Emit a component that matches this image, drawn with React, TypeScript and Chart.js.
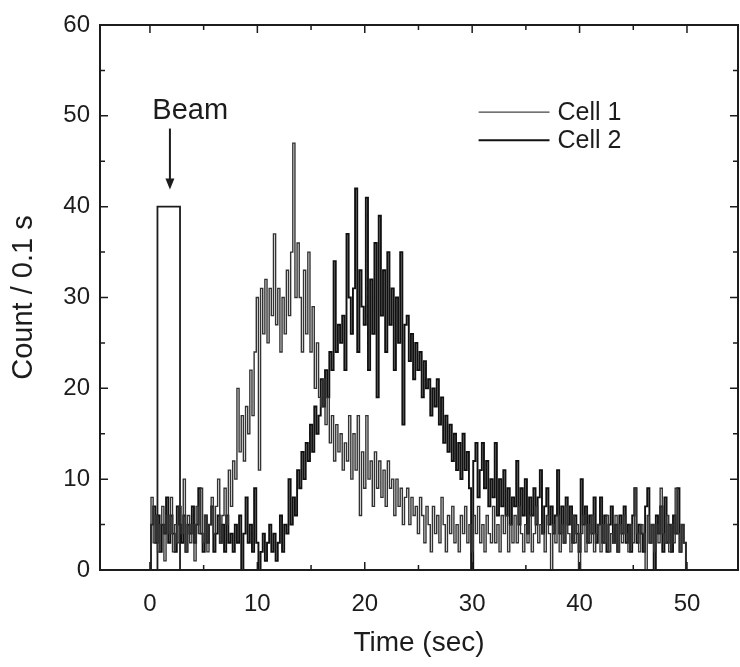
import React, { useEffect, useRef } from "react";
import { Chart, registerables } from "chart.js";

Chart.register(...registerables);

// ---- data (0.2 s resolution) ----
const STEP = 0.2;
const cell1 = [
  0, 8, 3, 6, 2, 5, 7, 1, 6, 4, 8, 2, 5, 3, 7, 4, 10, 2, 6, 3,
  5, 1, 7, 4, 9, 3, 6, 2, 5, 8, 4, 7, 10, 3, 6, 9, 5, 11, 7, 12,
  10, 20, 13, 17, 12, 18, 15, 22, 17, 24, 30, 11, 31, 26, 32, 25, 31, 28, 37, 27,
  31, 24, 30, 26, 33, 28, 35, 47, 30, 36, 30, 24, 33, 26, 35, 24, 29, 20, 25, 19,
  18, 21, 16, 19, 14, 17, 12, 16, 13, 15, 11, 14, 12, 17, 10, 15, 11, 17, 6, 13,
  9, 17, 10, 12, 7, 13, 9, 12, 8, 11, 7, 12, 9, 10, 6, 10, 7, 9, 5, 8,
  9, 5, 8, 6, 7, 4, 8, 6, 3, 7, 5, 2, 7, 4, 6, 3, 8, 5, 2, 6,
  4, 7, 3, 5, 2, 6, 4, 7, 3, 5, 2, 6, 4, 7, 3, 5, 2, 6, 4, 3,
  7, 3, 5, 2, 6, 4, 6, 2, 5, 3, 6, 3, 7, 4, 2, 5, 3, 6, 2, 4,
  7, 3, 5, 4, 2, 6, 4, 0, 5, 3, 6, 2, 5, 3, 7, 4, 2, 6, 3, 5,
  0, 4, 6, 2, 5, 3, 6, 2, 4, 5, 2, 5, 3, 6, 2, 4, 3, 6, 2, 5,
  3, 6, 4, 2, 5, 3, 9, 4, 2, 5, 4, 0, 6, 3, 5, 2, 5, 3, 9, 4,
  3, 6, 2, 5, 3, 9, 4, 2, 5, 3,
  0,
];
const cell2 = [
  0, 5, 7, 3, 6, 2, 5, 4, 8, 3, 6, 4, 2, 7, 5, 3, 6, 2, 5, 4,
  7, 3, 5, 9, 4, 2, 6, 3, 5, 7, 2, 4, 6, 3, 5, 2, 6, 3, 4, 2,
  5, 3, 6, 0, 4, 8, 3, 5, 2, 9, 3, 0, 2, 4, 1, 3, 5, 2, 4, 1,
  3, 6, 2, 5, 4, 10, 5, 8, 6, 11, 9, 13, 10, 14, 12, 16, 13, 18, 15, 17,
  21, 18, 22, 19, 24, 22, 34, 24, 27, 25, 28, 22, 37, 30, 26, 31, 42, 24, 33, 29,
  27, 41, 22, 32, 26, 36, 19, 39, 28, 33, 24, 35, 27, 31, 22, 30, 25, 35, 16, 27,
  28, 23, 26, 21, 25, 22, 24, 19, 23, 20, 21, 17, 20, 18, 21, 16, 19, 14, 17, 13,
  16, 12, 15, 11, 14, 10, 15, 11, 13, 9, 0, 12, 14, 8, 11, 14, 9, 12, 7, 10,
  8, 14, 6, 10, 7, 11, 6, 9, 5, 8, 7, 12, 5, 9, 6, 10, 4, 8, 6, 9,
  5, 8, 11, 4, 7, 9, 5, 7, 4, 6, 11, 4, 7, 3, 8, 5, 7, 3, 6, 4,
  2, 10, 5, 7, 3, 6, 4, 8, 3, 5, 8, 3, 6, 2, 5, 7, 3, 5, 2, 6,
  4, 7, 3, 5, 2, 6, 9, 3, 5, 4, 2, 7, 9, 3, 5, 0, 6, 4, 7, 2,
  8, 3, 5, 2, 6, 4, 9, 2, 5, 3,
  0,
];
const seriesNames = ["Cell 1", "Cell 2"];
const beamTimes = [0.7, 0.7, 2.8, 2.8];
const beamCounts = [0, 40, 40, 0];
const beamLabel = "Beam";
const xTicks = [0, 10, 20, 30, 40, 50];
const yTicks = [0, 10, 20, 30, 40, 50, 60];
const xTitle = "Time (sec)";
const yTitle = "Count / 0.1 s";

const FONT = "'Liberation Sans', Arial, Helvetica, sans-serif";
const INK = "#1c1c1c";

const framePlugin = {
  id: "frame",
  afterDraw(chart: any) {
    const { ctx, chartArea: a, scales } = chart;
    const xs = scales.x;
    const ys = scales.y;
    ctx.save();
    ctx.strokeStyle = INK;
    ctx.lineWidth = 2;
    ctx.strokeRect(a.left, a.top, a.right - a.left, a.bottom - a.top);
    // inward ticks
    ctx.lineWidth = 1.5;
    for (let v = 0; v <= 55; v += 5) {
      const px = xs.getPixelForValue(v);
      if (px < a.left || px > a.right) continue;
      const len = v % 10 === 0 ? 8 : 5;
      ctx.beginPath();
      ctx.moveTo(px, a.bottom);
      ctx.lineTo(px, a.bottom - len);
      ctx.moveTo(px, a.top);
      ctx.lineTo(px, a.top + len);
      ctx.stroke();
    }
    for (let v = 0; v <= 60; v += 5) {
      const py = ys.getPixelForValue(v);
      const len = v % 10 === 0 ? 8 : 5;
      ctx.beginPath();
      ctx.moveTo(a.left, py);
      ctx.lineTo(a.left + len, py);
      ctx.moveTo(a.right, py);
      ctx.lineTo(a.right - len, py);
      ctx.stroke();
    }
    // beam arrow + label
    const ax = xs.getPixelForValue(1.86);
    const y0 = ys.getPixelForValue(48.6);
    const y1 = ys.getPixelForValue(41.9);
    ctx.strokeStyle = INK;
    ctx.fillStyle = INK;
    ctx.lineWidth = 2;
    ctx.beginPath();
    ctx.moveTo(ax, y0);
    ctx.lineTo(ax, y1 - 8);
    ctx.stroke();
    ctx.beginPath();
    ctx.moveTo(ax - 4.5, y1 - 11);
    ctx.lineTo(ax + 4.5, y1 - 11);
    ctx.lineTo(ax, y1);
    ctx.closePath();
    ctx.fill();
    ctx.font = `29px ${FONT}`;
    ctx.textAlign = "center";
    ctx.textBaseline = "middle";
    ctx.fillText(beamLabel, xs.getPixelForValue(3.75), ys.getPixelForValue(50.5));
    // legend
    const lx0 = xs.getPixelForValue(30.6);
    const lx1 = xs.getPixelForValue(37.2);
    const rows = [
      { y: ys.getPixelForValue(50.4), color: "#444", w: 1.3 },
      { y: ys.getPixelForValue(47.3), color: "#111", w: 2 },
    ];
    ctx.font = `25px ${FONT}`;
    ctx.textAlign = "left";
    rows.forEach((r, i) => {
      ctx.strokeStyle = r.color;
      ctx.lineWidth = r.w;
      ctx.beginPath();
      ctx.moveTo(lx0, r.y);
      ctx.lineTo(lx1, r.y);
      ctx.stroke();
      ctx.fillStyle = INK;
      ctx.fillText(seriesNames[i], lx1 + 8, r.y + 1);
    });
    ctx.restore();
  },
};

export default function App() {
  const ref = useRef<HTMLCanvasElement | null>(null);
  useEffect(() => {
    if (!ref.current) return;
    const chart = new Chart(ref.current, {
      type: "line",
      data: {
        datasets: [
          {
            label: seriesNames[0],
            data: cell1.map((v, i) => ({ x: i * STEP, y: v })),
            borderColor: "#333",
            borderWidth: 1.4,
            pointRadius: 0,
            stepped: "middle",
            fill: false,
          },
          {
            label: seriesNames[1],
            data: cell2.map((v, i) => ({ x: i * STEP, y: v })),
            borderColor: "#111",
            borderWidth: 1.9,
            pointRadius: 0,
            stepped: "middle",
            fill: false,
          },
          {
            label: beamLabel,
            data: beamTimes.map((t, i) => ({ x: t, y: beamCounts[i] })),
            borderColor: INK,
            borderWidth: 1.8,
            pointRadius: 0,
            fill: false,
          },
        ],
      },
      options: {
        responsive: false,
        animation: false,
        events: [],
        layout: { padding: { top: 25, right: 2, left: 0, bottom: 0 } },
        plugins: { legend: { display: false }, tooltip: { enabled: false } },
        scales: {
          x: {
            type: "linear",
            min: -4.65,
            max: 54.75,
            afterBuildTicks: (s: any) => {
              s.ticks = xTicks.map((v) => ({ value: v }));
            },
            afterFit: (s: any) => {
              s.height = 97;
            },
            grid: { display: false, drawTicks: false },
            border: { display: false },
            ticks: {
              color: INK,
              font: { family: FONT, size: 24 },
              padding: 20,
              maxRotation: 0,
              autoSkip: false,
            },
            title: {
              display: true,
              text: xTitle,
              color: INK,
              font: { family: FONT, size: 28 },
              padding: { top: 0, bottom: 7 },
            },
          },
          y: {
            min: 0,
            max: 60,
            afterBuildTicks: (s: any) => {
              s.ticks = yTicks.map((v) => ({ value: v }));
            },
            afterFit: (s: any) => {
              s.width = 100;
            },
            grid: { display: false, drawTicks: false },
            border: { display: false },
            ticks: {
              color: INK,
              font: { family: FONT, size: 24 },
              padding: 10,
            },
            title: {
              display: true,
              text: yTitle,
              color: INK,
              font: { family: FONT, size: 29 },
              padding: { top: 7, bottom: 0 },
            },
          },
        },
      },
      plugins: [framePlugin],
    });
    return () => chart.destroy();
  }, []);
  return (
    <div style={{ position: "fixed", left: 0, top: 0, width: 740, height: 667, background: "#fff" }}>
      <canvas ref={ref} width={740} height={667} style={{ display: "block" }} />
    </div>
  );
}
